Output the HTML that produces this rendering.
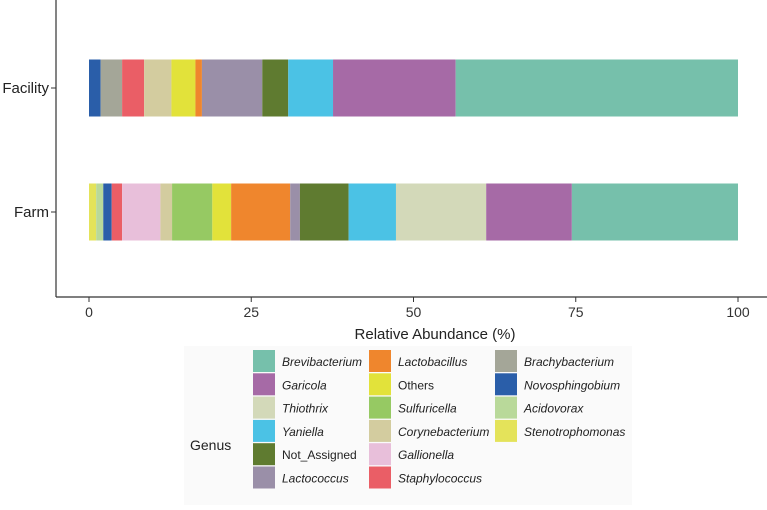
<!DOCTYPE html>
<html><head><meta charset="utf-8"><style>
body{margin:0;background:#fff;font-family:"Liberation Sans",sans-serif}
svg text{font-family:"Liberation Sans",sans-serif}
</style></head><body>
<svg id="c" width="767" height="505">
<rect x="184" y="346" width="448" height="159" fill="#fafafa"/>
<g id="bars"></g>
<line x1="56" y1="0" x2="56" y2="297" stroke="#333" stroke-width="1.2"/>
<line x1="56" y1="297" x2="767" y2="297" stroke="#333" stroke-width="1.2"/>
<g id="axes"></g>
<text x="435" y="339" text-anchor="middle" font-size="15" fill="#222">Relative Abundance (%)</text>
<text x="190" y="450" font-size="14" fill="#222">Genus</text>
<g id="legend"></g>
</svg>
<script>
const categories=["Facility","Farm"];
const facilityGenera=["Novosphingobium","Brachybacterium","Staphylococcus","Corynebacterium","Others","Lactobacillus","Lactococcus","Not_Assigned","Yaniella","Garicola","Brevibacterium"];
const facilityValues=[1.8,3.3,3.4,4.2,3.7,1.0,9.3,4.0,6.9,18.9,43.5];
const farmGenera=["Stenotrophomonas","Acidovorax","Novosphingobium","Staphylococcus","Gallionella","Corynebacterium","Sulfuricella","Others","Lactobacillus","Lactococcus","Not_Assigned","Yaniella","Thiothrix","Garicola","Brevibacterium"];
const farmValues=[1.1,1.1,1.3,1.6,5.9,1.8,6.2,2.9,9.1,1.5,7.5,7.3,13.9,13.2,25.6];
const ticks=[0,25,50,75,100];
const legendOrder=["Brevibacterium","Garicola","Thiothrix","Yaniella","Not_Assigned","Lactococcus","Lactobacillus","Others","Sulfuricella","Corynebacterium","Gallionella","Staphylococcus","Brachybacterium","Novosphingobium","Acidovorax","Stenotrophomonas"];
const colors={Brevibacterium:"#76c0ab",Garicola:"#a66aa6",Thiothrix:"#d3d9b9",Yaniella:"#4bc2e5",Not_Assigned:"#5f7b30",Lactococcus:"#9a8fa8",Lactobacillus:"#ef862d",Others:"#e2e23a",Sulfuricella:"#96c963",Corynebacterium:"#d3cc9f",Gallionella:"#e8bfda",Staphylococcus:"#ea5e66",Brachybacterium:"#a4a698",Novosphingobium:"#2a5ea9",Acidovorax:"#b9d99a",Stenotrophomonas:"#e4e35a"};
const NS="http://www.w3.org/2000/svg";
const x=v=>89+v*6.49;
const yc={Facility:88,Farm:212};
const bh=57;
function mk(t,a,p){const e=document.createElementNS(NS,t);for(const k in a)e.setAttribute(k,a[k]);p.appendChild(e);return e;}
const bars=document.getElementById('bars');
[[categories[0],facilityGenera,facilityValues],[categories[1],farmGenera,farmValues]].forEach(([cat,g,v])=>{
 let acc=0;
 g.forEach((name,i)=>{
  const r=mk('rect',{x:x(acc),y:yc[cat]-bh/2,width:x(acc+v[i])-x(acc),height:bh,fill:colors[name]},bars);
  
  
  acc+=v[i];
 });
});
const axes=document.getElementById('axes');
ticks.forEach(t=>{
 const l=mk('line',{x1:x(t),x2:x(t),y1:297,y2:302,stroke:'#333'},axes);
 
 
 const tx=mk('text',{x:x(t),y:317,'text-anchor':'middle','font-size':14,fill:'#333'},axes);tx.textContent=t;
 
 
});
categories.forEach(c=>{
 const l=mk('line',{x1:51,x2:56,y1:yc[c],y2:yc[c],stroke:'#333'},axes);
 
 
 const tx=mk('text',{x:49,y:yc[c]+5,'text-anchor':'end','font-size':15,fill:'#222'},axes);tx.textContent=c;
 
 
});
const leg=document.getElementById('legend');
const colX=[253,369,495];
legendOrder.forEach((n,i)=>{
 const c=Math.floor(i/6),r=i%6;
 const y=360+r*23.3;
 const s=mk('rect',{x:colX[c],y:y-10,width:22,height:22,fill:colors[n]},leg);
 
 
 const it=(n!=="Others"&&n!=="Not_Assigned");
 const t=mk('text',{x:colX[c]+29,y:y+6,'font-size':12,fill:'#222','font-style':it?'italic':'normal'},leg);t.textContent=n;
 
 
});
</script>
</body></html>
